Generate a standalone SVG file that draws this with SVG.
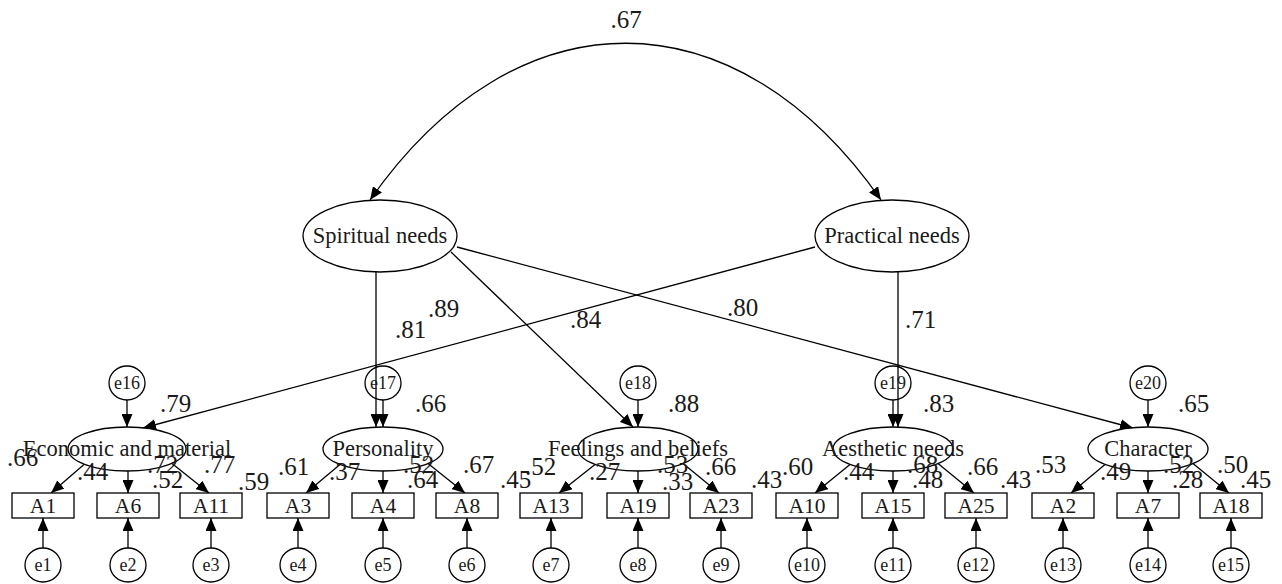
<svg xmlns="http://www.w3.org/2000/svg" width="1282" height="584" viewBox="0 0 1282 584">
<style>
.n{fill:#fff;stroke:#000;stroke-width:1.3}
.c{stroke:#000;stroke-width:1.3;fill:none;marker-end:url(#ah)}
.t{font-family:"Liberation Serif","Times New Roman",serif;fill:#1a1a1a;text-anchor:middle}
.lat{font-size:22.5px}
.ind{font-size:21.5px}
.err{font-size:18px}
.num{font-family:"Liberation Serif","Times New Roman",serif;font-size:25px;fill:#1a1a1a}
</style>
<defs>
<marker id="ah" viewBox="0 0 13 11" refX="13" refY="5.5" markerWidth="13" markerHeight="11" markerUnits="userSpaceOnUse" orient="auto-start-reverse"><path d="M0,0 L13,5.5 L0,11 z" fill="#000"/></marker>
</defs>
<rect width="1282" height="584" fill="#fff"/>

<g id="connectors">
<path class="c" style="marker-start:url(#ah)" d="M370,200 C516,-9 735,-9 881,200"/>
<line class="c" x1="376" y1="272" x2="376" y2="427"/>
<line class="c" x1="451" y1="252" x2="633" y2="427"/>
<line class="c" x1="457" y1="247" x2="1133" y2="428"/>
<line class="c" x1="815" y1="247" x2="143" y2="428"/>
<line class="c" x1="898" y1="272" x2="898" y2="427"/>
<line class="c" x1="127" y1="400" x2="127" y2="427"/>
<line class="c" x1="383" y1="400" x2="383" y2="427"/>
<line class="c" x1="638" y1="400" x2="638" y2="427"/>
<line class="c" x1="893" y1="400" x2="893" y2="427"/>
<line class="c" x1="1148" y1="400" x2="1148" y2="427"/>
<line class="c" x1="84" y1="464.5" x2="51" y2="493"/>
<line class="c" x1="128" y1="471" x2="128" y2="493"/>
<line class="c" x1="172" y1="463.5" x2="209" y2="493"/>
<line class="c" x1="340" y1="464.5" x2="306" y2="493"/>
<line class="c" x1="383" y1="471" x2="383" y2="493"/>
<line class="c" x1="428" y1="463.5" x2="465" y2="493"/>
<line class="c" x1="595" y1="464.5" x2="559" y2="493"/>
<line class="c" x1="638" y1="471" x2="638" y2="493"/>
<line class="c" x1="683" y1="463.5" x2="719" y2="493"/>
<line class="c" x1="850" y1="464.5" x2="815" y2="493"/>
<line class="c" x1="893" y1="471" x2="893" y2="493"/>
<line class="c" x1="938" y1="463.5" x2="974" y2="493"/>
<line class="c" x1="1105" y1="464.5" x2="1071" y2="493"/>
<line class="c" x1="1148" y1="471" x2="1148" y2="493"/>
<line class="c" x1="1193" y1="463.5" x2="1229" y2="493"/>
<line class="c" x1="43" y1="548" x2="43" y2="518"/>
<line class="c" x1="128" y1="548" x2="128" y2="518"/>
<line class="c" x1="211" y1="548" x2="211" y2="518"/>
<line class="c" x1="298" y1="548" x2="298" y2="518"/>
<line class="c" x1="383" y1="548" x2="383" y2="518"/>
<line class="c" x1="467" y1="548" x2="467" y2="518"/>
<line class="c" x1="551" y1="548" x2="551" y2="518"/>
<line class="c" x1="638" y1="548" x2="638" y2="518"/>
<line class="c" x1="721" y1="548" x2="721" y2="518"/>
<line class="c" x1="807" y1="548" x2="807" y2="518"/>
<line class="c" x1="893" y1="548" x2="893" y2="518"/>
<line class="c" x1="976" y1="548" x2="976" y2="518"/>
<line class="c" x1="1063" y1="548" x2="1063" y2="518"/>
<line class="c" x1="1148" y1="548" x2="1148" y2="518"/>
<line class="c" x1="1231" y1="548" x2="1231" y2="518"/>
</g>

<g id="spiritual"><ellipse class="n" cx="380" cy="236" rx="77" ry="36"/><text class="t lat" x="380" y="243">Spiritual needs</text></g>
<g id="practical"><ellipse class="n" cx="892" cy="236" rx="77" ry="36"/><text class="t lat" x="892" y="243">Practical needs</text></g>

<g id="economic"><ellipse class="n" cx="127" cy="449" rx="59" ry="22"/><text class="t lat" x="127" y="456">Economic and material</text></g>
<g id="personality"><ellipse class="n" cx="383" cy="449" rx="60" ry="22"/><text class="t lat" x="383" y="456">Personality</text></g>
<g id="feelings"><ellipse class="n" cx="638" cy="449" rx="60" ry="22"/><text class="t lat" x="638" y="456">Feelings and beliefs</text></g>
<g id="aesthetic"><ellipse class="n" cx="893" cy="449" rx="60" ry="22"/><text class="t lat" x="893" y="456">Aesthetic needs</text></g>
<g id="character"><ellipse class="n" cx="1148" cy="449" rx="60" ry="22"/><text class="t lat" x="1148" y="456">Character</text></g>

<g id="e16"><ellipse class="n" cx="127" cy="383" rx="18" ry="17"/><text class="t err" x="127" y="389">e16</text></g>
<g id="e17"><ellipse class="n" cx="383" cy="383" rx="18" ry="17" style="fill:none"/><text class="t err" x="383" y="389">e17</text></g>
<g id="e18"><ellipse class="n" cx="638" cy="383" rx="18" ry="17"/><text class="t err" x="638" y="389">e18</text></g>
<g id="e19"><ellipse class="n" cx="893" cy="383" rx="18" ry="17" style="fill:none"/><text class="t err" x="893" y="389">e19</text></g>
<g id="e20"><ellipse class="n" cx="1148" cy="383" rx="18" ry="17"/><text class="t err" x="1148" y="389">e20</text></g>

<g id="A1"><rect class="n" x="12" y="493" width="62" height="25"/><text class="t ind" x="43" y="513">A1</text></g>
<g id="A6"><rect class="n" x="97" y="493" width="62" height="25"/><text class="t ind" x="128" y="513">A6</text></g>
<g id="A11"><rect class="n" x="180" y="493" width="62" height="25"/><text class="t ind" x="211" y="513">A11</text></g>
<g id="A3"><rect class="n" x="267" y="493" width="62" height="25"/><text class="t ind" x="298" y="513">A3</text></g>
<g id="A4"><rect class="n" x="352" y="493" width="62" height="25"/><text class="t ind" x="383" y="513">A4</text></g>
<g id="A8"><rect class="n" x="436" y="493" width="62" height="25"/><text class="t ind" x="467" y="513">A8</text></g>
<g id="A13"><rect class="n" x="520" y="493" width="62" height="25"/><text class="t ind" x="551" y="513">A13</text></g>
<g id="A19"><rect class="n" x="607" y="493" width="62" height="25"/><text class="t ind" x="638" y="513">A19</text></g>
<g id="A23"><rect class="n" x="690" y="493" width="62" height="25"/><text class="t ind" x="721" y="513">A23</text></g>
<g id="A10"><rect class="n" x="776" y="493" width="62" height="25"/><text class="t ind" x="807" y="513">A10</text></g>
<g id="A15"><rect class="n" x="862" y="493" width="62" height="25"/><text class="t ind" x="893" y="513">A15</text></g>
<g id="A25"><rect class="n" x="945" y="493" width="62" height="25"/><text class="t ind" x="976" y="513">A25</text></g>
<g id="A2"><rect class="n" x="1032" y="493" width="62" height="25"/><text class="t ind" x="1063" y="513">A2</text></g>
<g id="A7"><rect class="n" x="1117" y="493" width="62" height="25"/><text class="t ind" x="1148" y="513">A7</text></g>
<g id="A18"><rect class="n" x="1200" y="493" width="62" height="25"/><text class="t ind" x="1231" y="513">A18</text></g>

<g id="e1"><ellipse class="n" cx="43" cy="565" rx="18" ry="17"/><text class="t err" x="43" y="571">e1</text></g>
<g id="e2"><ellipse class="n" cx="128" cy="565" rx="18" ry="17"/><text class="t err" x="128" y="571">e2</text></g>
<g id="e3"><ellipse class="n" cx="211" cy="565" rx="18" ry="17"/><text class="t err" x="211" y="571">e3</text></g>
<g id="e4"><ellipse class="n" cx="298" cy="565" rx="18" ry="17"/><text class="t err" x="298" y="571">e4</text></g>
<g id="e5"><ellipse class="n" cx="383" cy="565" rx="18" ry="17"/><text class="t err" x="383" y="571">e5</text></g>
<g id="e6"><ellipse class="n" cx="467" cy="565" rx="18" ry="17"/><text class="t err" x="467" y="571">e6</text></g>
<g id="e7"><ellipse class="n" cx="551" cy="565" rx="18" ry="17"/><text class="t err" x="551" y="571">e7</text></g>
<g id="e8"><ellipse class="n" cx="638" cy="565" rx="18" ry="17"/><text class="t err" x="638" y="571">e8</text></g>
<g id="e9"><ellipse class="n" cx="721" cy="565" rx="18" ry="17"/><text class="t err" x="721" y="571">e9</text></g>
<g id="e10"><ellipse class="n" cx="807" cy="565" rx="18" ry="17"/><text class="t err" x="807" y="571">e10</text></g>
<g id="e11"><ellipse class="n" cx="893" cy="565" rx="18" ry="17"/><text class="t err" x="893" y="571">e11</text></g>
<g id="e12"><ellipse class="n" cx="976" cy="565" rx="18" ry="17"/><text class="t err" x="976" y="571">e12</text></g>
<g id="e13"><ellipse class="n" cx="1063" cy="565" rx="18" ry="17"/><text class="t err" x="1063" y="571">e13</text></g>
<g id="e14"><ellipse class="n" cx="1148" cy="565" rx="18" ry="17"/><text class="t err" x="1148" y="571">e14</text></g>
<g id="e15"><ellipse class="n" cx="1231" cy="565" rx="18" ry="17"/><text class="t err" x="1231" y="571">e15</text></g>

<g id="labels">
<text class="num" x="626" y="28" text-anchor="middle">.67</text>
<text class="num" x="428" y="317">.89</text>
<text class="num" x="395" y="338">.81</text>
<text class="num" x="570" y="328">.84</text>
<text class="num" x="727" y="316">.80</text>
<text class="num" x="905" y="328">.71</text>
<text class="num" x="160" y="412">.79</text>
<text class="num" x="415" y="412">.66</text>
<text class="num" x="668" y="412">.88</text>
<text class="num" x="923" y="412">.83</text>
<text class="num" x="1178" y="412">.65</text>
<text class="num" x="7" y="466">.66</text>
<text class="num" x="77" y="480">.44</text>
<text class="num" x="147" y="473">.72</text>
<text class="num" x="152" y="488">.52</text>
<text class="num" x="204" y="473">.77</text>
<text class="num" x="238" y="490">.59</text>
<text class="num" x="278" y="475">.61</text>
<text class="num" x="329" y="480">.37</text>
<text class="num" x="403" y="473">.52</text>
<text class="num" x="407" y="488">.64</text>
<text class="num" x="463" y="473">.67</text>
<text class="num" x="500" y="488">.45</text>
<text class="num" x="525" y="475">.52</text>
<text class="num" x="589" y="480">.27</text>
<text class="num" x="657" y="473">.53</text>
<text class="num" x="662" y="490">.33</text>
<text class="num" x="705" y="475">.66</text>
<text class="num" x="751" y="488">.43</text>
<text class="num" x="782" y="475">.60</text>
<text class="num" x="843" y="480">.44</text>
<text class="num" x="907" y="473">.68</text>
<text class="num" x="912" y="488">.48</text>
<text class="num" x="967" y="475">.66</text>
<text class="num" x="1000" y="488">.43</text>
<text class="num" x="1035" y="473">.53</text>
<text class="num" x="1100" y="480">.49</text>
<text class="num" x="1163" y="473">.52</text>
<text class="num" x="1172" y="488">.28</text>
<text class="num" x="1217" y="473">.50</text>
<text class="num" x="1240" y="488">.45</text>
</g>
</svg>
